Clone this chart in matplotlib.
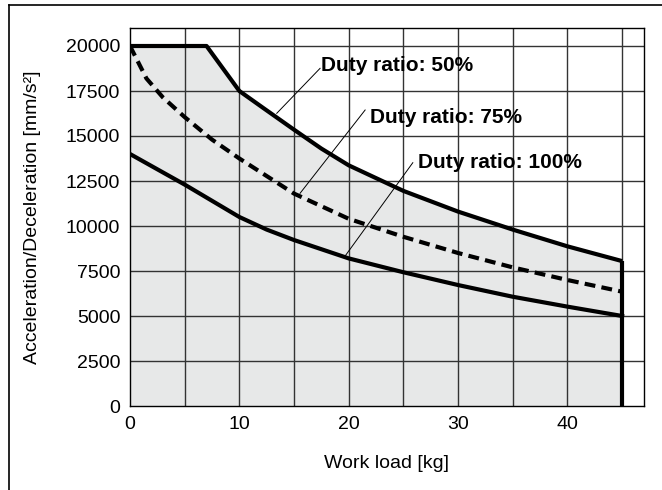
import matplotlib
matplotlib.use("Agg")
import matplotlib.pyplot as plt
from matplotlib.lines import Line2D

plt.rcParams['font.family'] = ['Liberation Sans', 'DejaVu Sans']

# --- data ---
load_50 = [0, 7, 8.8, 10, 12.2, 15, 17.5, 20, 25, 30, 35, 40, 45]
acc_50 = [20000, 20000, 18500, 17500, 16550, 15350, 14300, 13370, 11950, 10800, 9800, 8870, 8050]

load_75 = [0, 1.5, 3, 5, 7.5, 10, 15, 20, 25, 30, 35, 40, 45]
acc_75 = [20000, 18200, 17150, 16050, 14800, 13750, 11800, 10400, 9400, 8500, 7700, 7000, 6350]

load_100 = [0, 2.5, 5, 7.5, 10, 12.5, 15, 20, 25, 30, 35, 40, 45]
acc_100 = [14000, 13150, 12300, 11400, 10500, 9800, 9220, 8200, 7430, 6720, 6070, 5520, 5000]

labels = ["Duty ratio: 50%", "Duty ratio: 75%", "Duty ratio: 100%"]
label_pos = [(17.5, 18611), (21.95, 15706), (26.35, 13204)]
leader_from = [(17.38, 18760), (21.5, 16444), (25.86, 13517)]
leader_to = [(13.42, 16261), (15.55, 11817), (19.67, 8333)]

x_labels = [0, 10, 20, 30, 40]
x_grid = [5, 10, 15, 20, 25, 30, 35, 40, 45]
y_ticks = [0, 2500, 5000, 7500, 10000, 12500, 15000, 17500, 20000]

fig = plt.figure(figsize=(6.62, 4.9), dpi=100)
ax = fig.add_axes([130 / 662, 1 - 406 / 490, 514 / 662, 378 / 490])

# shaded usable region under the 50% curve
ax.fill_between(load_50, 0, acc_50, color='#e7e8e8', zorder=0, lw=0)

# grid
for gx in x_grid:
    ax.axvline(gx, color='#333333', lw=1.0, zorder=1)
for gy in y_ticks[1:]:
    ax.axhline(gy, color='#333333', lw=1.0, zorder=1)

ax.plot(load_50, acc_50, color='black', lw=3, solid_capstyle='butt', zorder=3)
ax.plot(load_75, acc_75, color='black', lw=3, dashes=(2.6, 1.5), zorder=3)
ax.plot(load_100, acc_100, color='black', lw=3, zorder=3)
ax.plot([load_50[-1], load_50[-1]], [0, acc_50[-1]], color='black', lw=3,
        solid_capstyle='butt', zorder=3)

for txt, pos, p0, p1 in zip(labels, label_pos, leader_from, leader_to):
    ax.plot([p0[0], p1[0]], [p0[1], p1[1]], color='black', lw=0.7, zorder=4)
    ax.text(pos[0], pos[1], txt, fontsize=15, fontweight='bold',
            ha='left', va='baseline', zorder=5)

ax.set_xlim(0, 47)
ax.set_ylim(0, 21000)
ax.set_xticks(x_labels)
ax.set_yticks(y_ticks)
ax.tick_params(length=0, labelsize=14, colors='black')
ax.tick_params(axis='x', pad=7)
ax.tick_params(axis='y', pad=7)
for s in ax.spines.values():
    s.set_color('black')
    s.set_linewidth(1.0)

ax.set_xlabel("Work load [kg]", fontsize=14, va='center')
ax.xaxis.set_label_coords(0.5, (406 - 463) / 378)
ax.set_ylabel("Acceleration/Deceleration [mm/s²]", fontsize=14, va='center')
ax.yaxis.set_label_coords((33 - 130) / 514, 0.5)

# outer frame (top and left only)
fig.add_artist(Line2D([9 / 662, 1], [1 - 5 / 490, 1 - 5 / 490], color='black', lw=1.2))
fig.add_artist(Line2D([9 / 662, 9 / 662], [0, 1 - 5 / 490], color='black', lw=1.2))

fig.savefig("out.png", dpi=100)
